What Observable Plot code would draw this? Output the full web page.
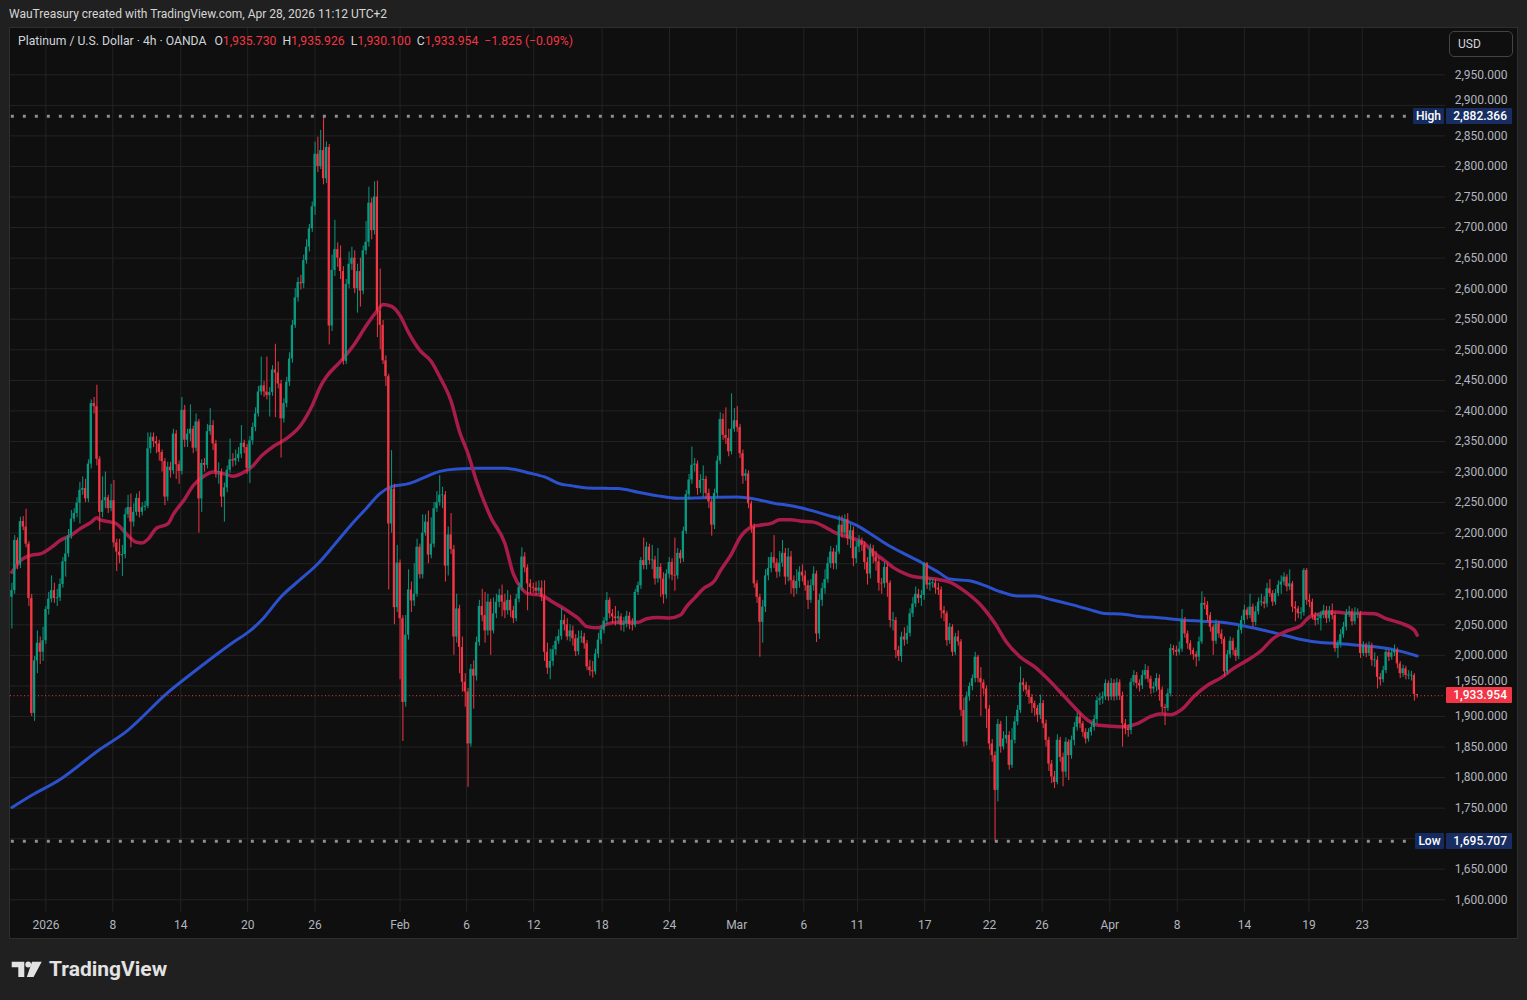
<!DOCTYPE html>
<html><head><meta charset="utf-8">
<script src="https://cdn.jsdelivr.net/npm/d3@7"></script>
<script src="https://cdn.jsdelivr.net/npm/@observablehq/plot@0.6"></script>
<style>
body{margin:0;background:#202020;font-family:Roboto,"Liberation Sans",sans-serif;}
#page{position:relative;width:1527px;height:1000px;background:#202020;overflow:hidden;}
#credit{position:absolute;left:9px;top:6px;font-size:12px;line-height:16px;color:#d6d6d6;}
#panel{position:absolute;left:9px;top:27px;width:1507px;height:910px;background:#0f0f0f;border:1px solid #2e2e2e;}
#chart{position:absolute;left:10px;top:28px;}
#legend{position:absolute;left:18px;top:33px;font-size:12.2px;line-height:16px;color:#d1d4dc;white-space:nowrap;}
#legend .v{color:#f23645;}
#legend .k{margin-left:6px;}
#usd{position:absolute;left:1449px;top:31px;width:62px;height:24px;border:1px solid #434343;border-radius:5px;font-size:12px;line-height:24px;color:#d1d4dc;}
#usd span{position:absolute;left:8px;}
.tag{position:absolute;height:16px;font-size:12px;line-height:16px;color:#fff;font-weight:500;box-sizing:border-box;border-radius:1px;}
.tag.r{text-align:right;padding-right:5px;}
.tag.c{text-align:center;}
#logo{position:absolute;left:11px;top:961px;}
#logotext{position:absolute;left:49px;top:955px;font-size:21px;line-height:28px;font-weight:700;color:#e3e3e3;}
</style>
</head>
<body>
<div id="page">
  <div id="credit">WauTreasury created with TradingView.com, Apr 28, 2026 11:12 UTC+2</div>
  <div id="panel"></div>
  <div id="chart"></div>
  <div id="legend">Platinum / U.S. Dollar · 4h · OANDA<span class="k" style="margin-left:8px">O</span><span class="v">1,935.730</span><span class="k">H</span><span class="v">1,935.926</span><span class="k">L</span><span class="v">1,930.100</span><span class="k">C</span><span class="v">1,933.954</span><span class="v" style="margin-left:6px">−1.825 (−0.09%)</span></div>
  <div id="usd"><span>USD</span></div>
  <svg id="logo" width="32" height="17" viewBox="0 0 32 17">
    <path d="M0.7 0.7H13.3V16H7.3V6.3H0.7Z" fill="#e3e3e3"/>
    <circle cx="17.2" cy="3.5" r="2.9" fill="#e3e3e3"/>
    <path d="M21 0.7H30.7L22.6 16H15.8Z" fill="#e3e3e3"/>
  </svg>
  <div id="logotext">TradingView</div>
</div>
<script>
// ---------- data (4h candles, Dec 30 2025 – Apr 28 2026) ----------
const firstOpen = 2095;
const lastOpen = 1935.730;
const lastPrice = 1933.954;
const highVal = 2882.366;
const lowVal = 1695.707;

const closes = [
2106,2188,2148,2219,2210,2182, 2093,1905,1991,2020,2005,2024, 2075,2092,2106,2093,2094,2116,
2153,2166,2196,2223,2232,2249, 2270,2273,2256,2313,2412,2407, 2321,2234,2253,2258,2240,2253,
2184,2169,2163,2165,2230,2242, 2218,2234,2257,2234,2242,2244, 2338,2357,2350,2346,2332,2317,
2259,2308,2302,2362,2312,2301, 2401,2352,2362,2370,2339,2382, 2256,2314,2311,2366,2376,2346,
2300,2300,2259,2274,2303,2320, 2318,2322,2329,2347,2340,2306, 2351,2373,2395,2431,2441,2431,
2425,2430,2467,2462,2444,2387, 2412,2447,2485,2540,2585,2610, 2608,2646,2668,2698,2734,2820,
2800,2826,2780,2831,2539,2630, 2664,2650,2628,2481,2607,2640, 2650,2600,2628,2596,2662,2676,
2740,2695,2750,2563,2540,2482, 2456,2215,2272,2078,2151,2060, 1923,2033,2107,2089,2100,2177,
2132,2200,2218,2164,2182,2240, 2250,2262,2262,2146,2197,2173, 2030,2076,2013,1956,1940,1855,
1977,1966,2021,2080,2065,2040, 2087,2040,2068,2087,2098,2087, 2073,2090,2073,2060,2092,2111,
2161,2143,2117,2111,2110,2105, 2110,2095,2005,1979,1990,2009, 2023,2031,2057,2050,2030,2040,
2027,2006,2028,2030,2019,1981, 1975,1973,2002,2025,2041,2056, 2090,2068,2063,2060,2063,2049,
2052,2064,2050,2049,2103,2114, 2155,2147,2177,2155,2156,2125, 2144,2125,2099,2133,2152,2131,
2130,2167,2158,2203,2263,2287, 2311,2313,2273,2286,2288,2265, 2251,2213,2265,2318,2386,2360,
2355,2333,2370,2384,2373,2330, 2293,2297,2248,2210,2117,2095, 2054,2079,2130,2142,2160,2151,
2136,2151,2167,2128,2161,2122, 2109,2121,2136,2130,2114,2090, 2114,2133,2035,2090,2109,2124,
2150,2169,2150,2169,2213,2200, 2222,2191,2204,2158,2177,2187, 2180,2152,2133,2174,2161,2153,
2118,2117,2144,2118,2057,2057, 2008,1998,2030,2025,2036,2068, 2084,2100,2093,2098,2150,2115,
2118,2118,2110,2107,2073,2068, 2024,2046,2005,2030,2022,1910, 1858,1932,1949,1962,1997,1962,
1955,1945,1912,1855,1836,1779, 1887,1850,1863,1869,1820,1861, 1891,1910,1955,1951,1943,1931,
1921,1913,1902,1921,1888,1861, 1822,1801,1792,1861,1833,1809, 1858,1836,1861,1882,1899,1888,
1874,1863,1874,1882,1895,1926, 1929,1932,1954,1932,1954,1932, 1955,1933,1888,1880,1877,1956,
1967,1954,1950,1967,1975,1961, 1945,1948,1962,1943,1915,1913, 1937,2011,2008,2005,2010,2057,
2035,2019,2008,2001,1997,2022, 2085,2082,2065,2046,2023,2051, 2035,2026,1973,2001,2023,2008,
1998,2041,2057,2074,2065,2079, 2054,2071,2087,2087,2084,2109, 2101,2087,2101,2115,2120,2128,
2112,2117,2079,2076,2068,2070, 2139,2090,2087,2065,2057,2060, 2066,2073,2060,2073,2065,2011,
2019,2034,2046,2068,2071,2055, 2068,2068,2003,2016,2003,2015, 1992,1992,1964,1960,1975,2005,
1997,2004,2008,1986,1970,1978, 1967,1967,1967,1936,1933.954
];

const highs = [
2118,2196,2192,2226,2227,2239, 2186,2100,1998,2040,2030,2046, 2080,2103,2130,2118,2108,2125,
2160,2192,2206,2237,2240,2258, 2283,2292,2288,2320,2418,2422, 2442,2325,2292,2300,2262,2280,
2286,2190,2190,2180,2240,2262, 2264,2248,2264,2268,2250,2252, 2364,2364,2364,2358,2352,2336,
2322,2316,2316,2370,2368,2318, 2422,2409,2370,2410,2375,2395, 2386,2320,2322,2378,2404,2384,
2352,2315,2305,2282,2310,2354, 2330,2336,2340,2376,2352,2345, 2358,2380,2405,2440,2488,2448,
2488,2438,2474,2509,2480,2450, 2420,2455,2495,2548,2600,2618, 2622,2655,2680,2705,2742,2840,
2848,2859,2882.366,2840,2836,2655, 2712,2675,2670,2636,2615,2660, 2668,2662,2640,2650,2670,2710,
2766,2748,2775,2776,2632,2548, 2490,2460,2335,2280,2180,2156, 2065,2065,2140,2120,2150,2190,
2182,2230,2230,2236,2225,2250, 2268,2294,2275,2268,2210,2232, 2180,2100,2082,2030,1970,1946,
1985,1991,2030,2090,2108,2103, 2100,2092,2094,2100,2108,2115, 2100,2106,2098,2080,2100,2118,
2176,2168,2148,2124,2118,2120, 2122,2122,2122,2020,2010,2016, 2030,2042,2077,2066,2060,2050,
2048,2034,2040,2040,2036,2024, 1992,1990,2010,2036,2048,2062, 2103,2094,2075,2080,2072,2068,
2062,2072,2070,2060,2108,2120, 2160,2192,2185,2182,2180,2162, 2175,2150,2135,2140,2160,2158,
2192,2175,2172,2210,2270,2296, 2341,2322,2318,2296,2310,2293, 2272,2256,2272,2326,2397,2395,
2405,2370,2428,2404,2407,2378, 2336,2304,2302,2252,2215,2122, 2100,2090,2140,2160,2168,2196,
2158,2170,2188,2175,2175,2170, 2130,2140,2145,2148,2138,2122, 2124,2145,2138,2100,2118,2140,
2160,2178,2175,2180,2228,2228, 2230,2232,2214,2210,2186,2196, 2192,2186,2160,2182,2180,2170,
2160,2126,2152,2150,2122,2070, 2062,2015,2038,2045,2048,2076, 2095,2112,2108,2106,2152,2152,
2126,2125,2124,2118,2112,2080, 2072,2052,2050,2036,2040,2026, 1930,1940,1955,1968,2005,2000,
1980,1960,1950,1918,1862,1842, 1895,1892,1875,1900,1875,1880, 1900,1918,1981,1962,1956,1950,
1936,1925,1918,1935,1926,1894, 1866,1828,1810,1870,1866,1840, 1865,1862,1868,1890,1906,1905,
1892,1880,1880,1890,1902,1932, 1938,1940,1960,1958,1962,1960, 1962,1960,1940,1895,1886,1962,
1975,1972,1960,1975,1985,1982, 1966,1956,1970,1968,1948,1920, 1945,2018,2016,2015,2022,2075,
2062,2040,2024,2012,2006,2030, 2104,2095,2088,2070,2050,2058, 2056,2042,2030,2008,2030,2028,
2012,2048,2064,2082,2078,2100, 2084,2080,2094,2100,2096,2118, 2124,2106,2108,2122,2130,2135,
2132,2140,2121,2088,2080,2078, 2142,2142,2100,2092,2070,2068, 2072,2082,2080,2080,2084,2070,
2024,2042,2054,2075,2080,2076, 2078,2076,2072,2022,2020,2022, 2020,2004,1998,1970,1982,2010,
2008,2010,2017,2012,1990,1984, 1982,1975,1974,1970,1935.926
];

const lows = [
2043,2100,2140,2142,2204,2176, 2080,1900,1892,1970,1985,1990, 2018,2066,2086,2085,2080,2088,
2110,2128,2160,2190,2218,2225, 2215,2262,2250,2250,2305,2395, 2310,2204,2225,2240,2232,2235,
2176,2137,2150,2129,2158,2224, 2176,2210,2228,2225,2228,2236, 2240,2330,2340,2330,2318,2300,
2245,2252,2290,2296,2288,2280, 2295,2340,2340,2350,2330,2333, 2200,2234,2300,2305,2360,2335,
2290,2280,2242,2218,2266,2298, 2308,2310,2316,2322,2330,2296, 2281,2344,2366,2390,2425,2422,
2418,2390,2424,2389,2436,2323, 2380,2405,2440,2478,2535,2578, 2598,2600,2640,2660,2692,2720,
2790,2795,2770,2772,2508,2530, 2620,2635,2615,2475,2476,2600, 2630,2592,2560,2570,2590,2655,
2668,2680,2688,2520,2500,2476, 2440,2107,2200,2050,2070,1960, 1859,1915,2025,2070,2080,2095,
2125,2125,2195,2150,2158,2176, 2234,2244,2240,2120,2130,2165, 2000,2020,1970,1940,1915,1784,
1850,1912,1958,2015,2055,2020, 2032,2000,2035,2060,2078,2063, 2060,2066,2062,2052,2055,2086,
2105,2135,2073,2100,2102,2098, 2100,2088,1990,1969,1960,1982, 2000,2018,2025,2040,2024,2022,
2015,1998,2000,2020,2010,1975, 1966,1963,1968,1995,2018,2035, 2050,2060,2052,2048,2050,2040,
2038,2045,2042,2040,2045,2098, 2108,2140,2140,2148,2140,2115, 2118,2095,2084,2092,2125,2122,
2105,2124,2150,2152,2198,2255, 2280,2300,2262,2265,2258,2255, 2240,2195,2206,2258,2312,2352,
2345,2325,2328,2365,2365,2322, 2280,2285,2240,2200,2110,2085, 1997,2020,2070,2122,2135,2142,
2126,2128,2144,2115,2120,2100, 2095,2100,2110,2120,2105,2075, 2085,2105,2021,2026,2080,2100,
2118,2142,2140,2140,2165,2192, 2195,2180,2175,2145,2150,2168, 2170,2140,2115,2125,2150,2138,
2105,2100,2110,2095,2045,2040, 1995,1990,1988,2015,2018,2030, 2062,2078,2085,2080,2090,2108,
2105,2110,2100,2098,2060,2055, 2015,2018,1998,2000,2015,1900, 1850,1852,1925,1942,1955,1955,
1900,1935,1880,1845,1825,1695.707, 1760,1840,1845,1855,1812,1815, 1855,1885,1905,1940,1935,1920,
1905,1900,1890,1895,1880,1850, 1810,1790,1782,1788,1825,1785, 1800,1795,1830,1852,1876,1880,
1866,1855,1858,1868,1876,1888, 1918,1920,1926,1925,1926,1925, 1926,1926,1850,1870,1866,1870,
1950,1945,1940,1944,1960,1955, 1936,1938,1940,1925,1905,1885, 1908,1932,2000,1998,2000,2005,
2028,2010,2000,1992,1981,1990, 2018,2075,2055,2038,2000,2018, 2028,2018,1965,1968,1995,2000,
1990,1993,2035,2050,2058,2060, 2046,2048,2066,2080,2076,2078, 2095,2080,2082,2096,2100,2114,
2104,2106,2070,2055,2060,2058, 2064,2082,2078,2058,2048,2050, 2040,2060,2052,2054,2058,2005,
1995,2012,2028,2040,2062,2048, 2050,2060,1995,1998,1996,1998, 1982,1980,1945,1950,1955,1970,
1990,1992,1998,1978,1962,1964, 1960,1960,1958,1925,1930.1
];

// moving averages (red = faster MA, blue = slower MA), sampled at candle indices
const redIdx = [0,3,7,10,14,17,21,24,28,30,31,35,37,41,44,46,48,51,55,57,61,64,68,71,75,78,82,85,88,92,97,102,106,109,111,116,121,125,129,131,134,137,140,144,148,151,155,158,161,164,169,174,177,180,182,187,191,196,200,203,207,210,214,221,224,228,232,236,238,241,244,248,250,254,257,261,264,268,271,275,278,283,287,290,294,297,301,304,308,311,315,318,322,327,331,336,342,347,351,356,361,365,370,375,380,383,388,393,397,402,405,409,413,417,422,427,431,436,441,445,450,455,458,462,467,471,476,481,485,490,495,496];
const redVal = [2136,2155,2164,2166,2177,2188,2197,2207,2218,2225,2222,2218,2215,2196,2185,2184,2190,2208,2215,2231,2256,2278,2294,2300,2297,2293,2300,2310,2326,2341,2355,2377,2409,2441,2456,2481,2510,2539,2564,2574,2571,2556,2528,2499,2481,2456,2416,2366,2330,2285,2226,2183,2133,2109,2101,2098,2087,2073,2060,2047,2045,2051,2054,2054,2060,2062,2061,2066,2079,2094,2109,2122,2138,2166,2193,2210,2213,2216,2222,2222,2220,2218,2210,2202,2195,2191,2183,2169,2155,2144,2134,2129,2127,2124,2120,2106,2082,2052,2022,1997,1981,1964,1940,1915,1893,1886,1884,1883,1888,1900,1904,1903,1912,1932,1951,1964,1978,1992,2008,2027,2040,2049,2063,2068,2071,2069,2069,2068,2060,2053,2041,2033];
const blueIdx = [0,7,17,31,40,55,67,78,84,88,95,102,108,114,120,125,130,134,140,145,151,157,165,174,183,188,194,197,203,214,221,228,235,244,256,262,269,276,283,288,294,298,303,309,315,321,327,331,338,343,349,355,361,367,374,381,385,393,397,404,413,420,427,434,441,448,455,462,467,474,481,488,496];
const blueVal = [1751,1771,1797,1846,1874,1939,1983,2021,2040,2057,2096,2125,2150,2182,2215,2240,2265,2276,2281,2290,2301,2305,2306,2306,2298,2292,2280,2278,2274,2273,2267,2261,2257,2258,2259,2256,2249,2244,2236,2229,2221,2213,2199,2181,2166,2152,2136,2125,2122,2115,2104,2097,2097,2091,2083,2074,2069,2067,2064,2062,2058,2056,2054,2049,2042,2034,2026,2021,2020,2017,2014,2009,1999];

// axes
const yTicks = [1600,1650,1700,1750,1800,1850,1900,1950,2000,2050,2100,2150,2200,2250,2300,2350,2400,2450,2500,2550,2600,2650,2700,2750,2800,2850,2900,2950];
const yTicksNearTags = [1950, 2900];
const xTickIdx = [12,35.6,59.6,83.2,107,137,160.5,184.2,208.3,232.1,255.8,279.5,298.4,322.2,345,363.6,387.5,411.3,435,457.8,476.6];
const xTickLab = ["2026","8","14","20","26","Feb","6","12","18","24","Mar","6","11","17","22","26","Apr","8","14","19","23"];

// ---------- build ----------
const UP = "#089981", DOWN = "#f23645";
const n = closes.length;
const candles = closes.map((c, i) => {
  const o = i === 0 ? firstOpen : (i === n - 1 ? lastOpen : closes[i - 1]);
  let b0 = Math.min(o, c), b1 = Math.max(o, c);
  if (b1 - b0 < 1.4) { const m = (b0 + b1) / 2; b0 = m - 0.7; b1 = m + 0.7; }
  return {i, o, c, h: highs[i], l: lows[i], b0, b1, col: c >= o ? UP : DOWN};
});
const redMA = redIdx.map((i, k) => ({i, v: redVal[k]}));
const blueMA = blueIdx.map((i, k) => ({i, v: blueVal[k]}));

const X0 = -0.494, X1 = 505.98;
const fmt = d3.format(",.3f");
const chart = Plot.plot({
  width: 1507, height: 910,
  marginLeft: 0, marginRight: 72, marginTop: 0, marginBottom: 26,
  x: {type: "linear", domain: [X0, X1]},
  y: {type: "linear", domain: [1579.2, 3025.8]},
  color: {type: "identity"},
  style: {background: "transparent", color: "#b2b5be", fontFamily: "Roboto, 'Liberation Sans', sans-serif", fontSize: "12px", overflow: "visible"},
  marks: [
    Plot.gridY(yTicks, {stroke: "#232323", strokeOpacity: 1, strokeWidth: 1}),
    Plot.gridX(xTickIdx, {stroke: "#232323", strokeOpacity: 1, strokeWidth: 1}),
    Plot.axisY(yTicks.filter(t => !yTicksNearTags.includes(t)), {anchor: "right", tickSize: 0, tickPadding: 0, dx: 62, textAnchor: "end", label: null, tickFormat: fmt, fontSize: 12}),
    Plot.axisY(yTicksNearTags, {anchor: "right", tickSize: 0, tickPadding: 0, dx: 62, dy: -5, textAnchor: "end", label: null, tickFormat: fmt, fontSize: 12}),
    Plot.axisX(xTickIdx, {anchor: "bottom", tickSize: 0, tickPadding: 8, label: null, tickFormat: d => xTickLab[xTickIdx.indexOf(d)], fontSize: 12}),
    Plot.line(blueMA, {x: "i", y: "v", stroke: "#2b51cc", strokeWidth: 3, curve: "monotone-x"}),
    Plot.line(redMA, {x: "i", y: "v", stroke: "#a81c4c", strokeWidth: 3.5, curve: "monotone-x"}),
    Plot.ruleY([lastPrice], {stroke: "#f23645", strokeWidth: 1, strokeDasharray: "1,2.5"}),
    Plot.ruleX(candles, {x: "i", y1: "l", y2: "h", stroke: "col", strokeWidth: 1}),
    Plot.rect(candles, {x1: d => d.i - 0.4, x2: d => d.i + 0.4, y1: "b0", y2: "b1", fill: "col"}),
    Plot.ruleY([highVal], {x1: X0 + 0.3, x2: 493.6, stroke: "#8e8e8e", strokeWidth: 3, strokeDasharray: "3,9"}),
    Plot.ruleY([lowVal], {x1: X0 + 0.3, x2: 494.4, stroke: "#8e8e8e", strokeWidth: 3, strokeDasharray: "3,9"})
  ]
});
document.getElementById("chart").appendChild(chart);

// price tags on the right axis, positioned through the plot's y scale
const ys = chart.scale("y");
const page = document.getElementById("page");
function tag(text, left, width, value, bg, cls) {
  const d = document.createElement("div");
  d.className = "tag " + cls;
  d.textContent = text;
  d.style.left = left + "px";
  d.style.width = width + "px";
  d.style.top = (28 + ys.apply(value) - 8) + "px";
  d.style.background = bg;
  page.appendChild(d);
}
tag("High", 1413, 31, highVal, "#152b5f", "c");
tag(fmt(highVal), 1446, 66, highVal, "#182e63", "r");
tag("Low", 1415, 29, lowVal, "#152b5f", "c");
tag(fmt(lowVal), 1446, 66, lowVal, "#182e63", "r");
tag(fmt(lastPrice), 1446, 66, lastPrice, "#f23645", "r");
</script>
</body></html>
